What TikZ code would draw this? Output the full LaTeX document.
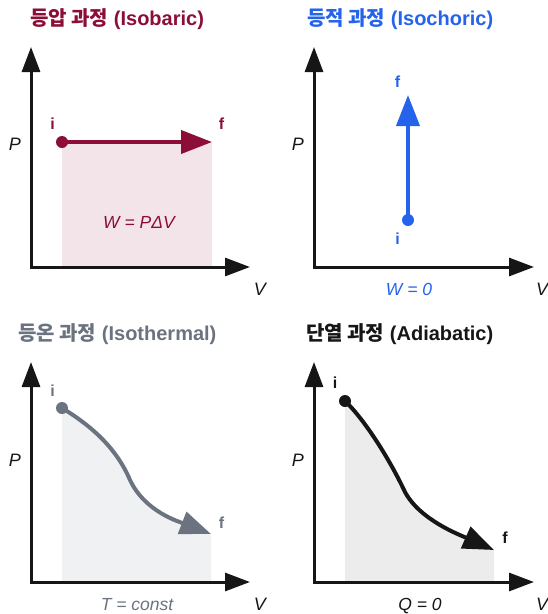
\documentclass[tikz,border=0pt]{standalone}
\usepackage{fontspec}
\setmainfont{Liberation Sans}
\newfontfamily\kofont{Noto Sans CJK KR}
\usetikzlibrary{arrows.meta}
\definecolor{cred}{HTML}{8C0E36}
\definecolor{cpink}{HTML}{F2E4E8}
\definecolor{cblue}{HTML}{2563EB}
\definecolor{cgray}{HTML}{6B7280}
\definecolor{cgfill}{HTML}{F0F1F3}
\definecolor{cafill}{HTML}{ECECEC}
\definecolor{cblack}{HTML}{161616}
\tikzset{
  axisline/.style={line width=3pt, draw=cblack, line join=miter,
    {Triangle[length=25pt,width=18pt]}-{Triangle[length=25pt,width=18pt]}},
  axlbl/.style={font=\fontsize{18}{20}\selectfont\itshape, inner sep=0, anchor=base, text=cblack},
  ptlbl/.style={font=\fontsize{16}{18}\selectfont\bfseries, inner sep=0, anchor=base},
  eqlbl/.style={font=\fontsize{17.5}{19}\selectfont\itshape, inner sep=0, anchor=base},
  ttl/.style={font=\fontsize{20}{22}\selectfont\bfseries, inner sep=0, anchor=base west},
  dotnode/.style={circle, inner sep=0, minimum size=12pt, fill=#1},
  proc/.style={line width=4pt, draw=#1, -{Triangle[length=31pt,width=23pt]}},
}
\begin{document}
\begin{tikzpicture}[x=1pt,y=-1pt]
\useasboundingbox (0,0) rectangle (548,614);

% ---------- Panel 1: Isobaric ----------
\node[ttl, text=cred] (t1) at (30,25) {{\kofont 등압 과정} (Isobaric)};
\coordinate (o1) at (31,267);
\coordinate (y1) at (31,47);
\coordinate (x1) at (250,267);
\coordinate (f1) at (212,142);
\fill[cpink] (62,142) rectangle (212,267);
\draw[axisline] (y1) -- (o1) -- (x1);
\node[axlbl] (p1) at (15,150) {P};
\node[axlbl] (v1) at (260,295) {V};
\node[dotnode=cred] (i1) at (62,142) {};
\draw[proc=cred] (i1.center) -- (f1);
\node[ptlbl, text=cred] (li1) at (52.5,129) {i};
\node[ptlbl, text=cred] (lf1) at (221.5,129) {f};
\node[eqlbl, text=cred] (e1) at (139,228) {W = PΔV};

% ---------- Panel 2: Isochoric ----------
\node[ttl, text=cblue] (t2) at (307,25) {{\kofont 등적 과정} (Isochoric)};
\coordinate (o2) at (314,267);
\coordinate (y2) at (314,47);
\coordinate (x2) at (534,267);
\coordinate (f2) at (408,95);
\draw[axisline] (y2) -- (o2) -- (x2);
\node[axlbl] (p2) at (298,150) {P};
\node[axlbl] (v2) at (542,295) {V};
\node[dotnode=cblue] (i2) at (408,220) {};
\draw[proc=cblue] (i2.center) -- (f2);
\node[ptlbl, text=cblue] (lf2) at (397.5,87) {f};
\node[ptlbl, text=cblue] (li2) at (397.5,244) {i};
\node[eqlbl, text=cblue] (e2) at (409,295) {W = 0};

% ---------- Panel 3: Isothermal ----------
\node[ttl, text=cgray] (t3) at (18,340) {{\kofont 등온 과정} (Isothermal)};
\coordinate (o3) at (31,582);
\coordinate (y3) at (31,362);
\coordinate (x3) at (250,582);
\coordinate (f3) at (211,534);
\fill[cgfill] (62,582) -- (62,408) .. controls (90,425) and (116,447) .. (130,480)
   .. controls (145,512) and (180,522) .. (211,534) -- (211,582) -- cycle;
\draw[axisline] (y3) -- (o3) -- (x3);
\node[axlbl] (p3) at (15,466) {P};
\node[axlbl] (v3) at (260,610) {V};
\node[dotnode=cgray] (i3) at (62,408) {};
\draw[proc=cgray] (i3.center) .. controls (90,425) and (116,447) .. (130,480)
   .. controls (145,512) and (180,522) .. (f3);
\node[ptlbl, text=cgray] (li3) at (52.5,396) {i};
\node[ptlbl, text=cgray] (lf3) at (221.5,528) {f};
\node[eqlbl, text=cgray] (e3) at (137,610) {T = const};

% ---------- Panel 4: Adiabatic ----------
\node[ttl, text=cblack] (t4) at (306,340) {{\kofont 단열 과정} (Adiabatic)};
\coordinate (o4) at (314,582);
\coordinate (y4) at (314,362);
\coordinate (x4) at (534,582);
\coordinate (f4) at (494,550);
\fill[cafill] (345,582) -- (345,401) .. controls (365,420) and (390,460) .. (405,492)
   .. controls (420,520) and (460,535) .. (494,550) -- (494,582) -- cycle;
\draw[axisline] (y4) -- (o4) -- (x4);
\node[axlbl] (p4) at (298,466) {P};
\node[axlbl] (v4) at (542,610) {V};
\node[dotnode=cblack] (i4) at (345,401) {};
\draw[proc=cblack] (i4.center) .. controls (365,420) and (390,460) .. (405,492)
   .. controls (420,520) and (460,535) .. (f4);
\node[ptlbl, text=cblack] (li4) at (335,388) {i};
\node[ptlbl, text=cblack] (lf4) at (505,543) {f};
\node[eqlbl, text=cblack] (e4) at (420,610) {Q = 0};
\end{tikzpicture}
\end{document}
